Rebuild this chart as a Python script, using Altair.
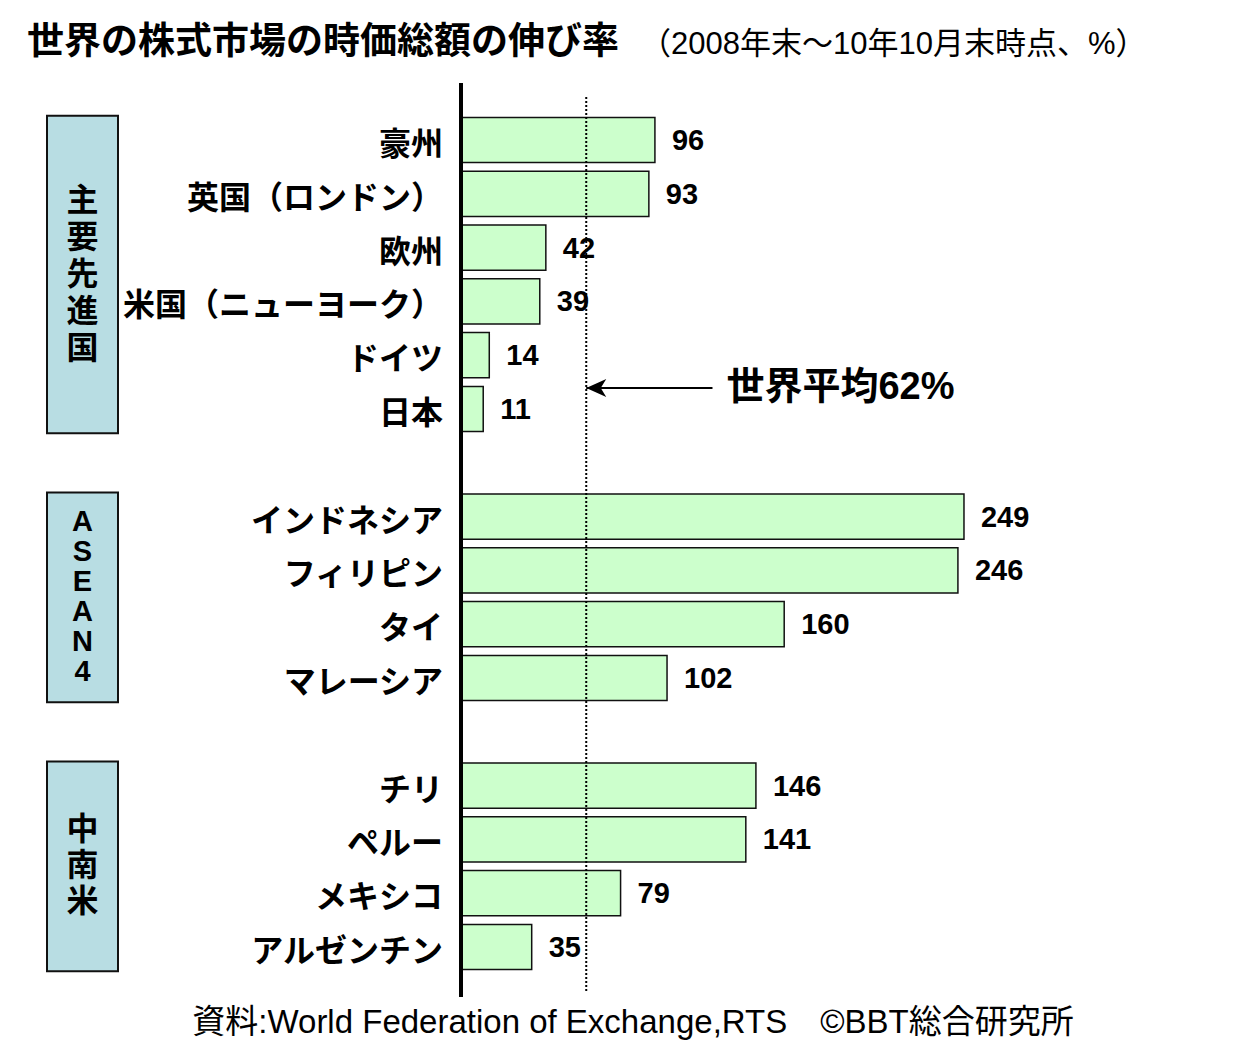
import altair as alt
import pandas as pd

# ---- data ----
labels = ["豪州", "英国（ロンドン）", "欧州", "米国（ニューヨーク）", "ドイツ", "日本",
          "インドネシア", "フィリピン", "タイ", "マレーシア",
          "チリ", "ペルー", "メキシコ", "アルゼンチン"]
values = [96, 93, 42, 39, 14, 11, 249, 246, 160, 102, 146, 141, 79, 35]
group_of = [0, 0, 0, 0, 0, 0, 1, 1, 1, 1, 2, 2, 2, 2]
group_names = ["主要先進国", "ASEAN4", "中南米"]
world_avg = 62

title_text = "世界の株式市場の時価総額の伸び率"
subtitle_text = "（2008年末～10年10月末時点、%）"
footer_text = "資料:World Federation of Exchange,RTS　©BBT総合研究所"
avg_label = "世界平均62%"

# rows with a blank gap between groups
pos = [i + g for i, g in enumerate(group_of)]
df = pd.DataFrame({"label": labels, "value": values, "pos": pos})
df["y0"] = df["pos"] - 0.42
df["y1"] = df["pos"] + 0.42
df["zero"] = 0

PX_PER_ROW = 807 / 15
pitches = [37, 30, 36]
gsizes = [32, 29, 32]

grows, crows = [], []
for g, name in enumerate(group_names):
    ps = [p for p, gg in zip(pos, group_of) if gg == g]
    mid = (min(ps) + max(ps)) / 2
    grows.append({"name": name, "y0": min(ps) - 0.45, "y1": max(ps) + 0.45})
    n = len(name)
    for k, ch in enumerate(name):
        crows.append({"ch": ch, "fs": gsizes[g],
                      "y": mid + (k - (n - 1) / 2) * pitches[g] / PX_PER_ROW})
gdf = pd.DataFrame(grows)
cdf = pd.DataFrame(crows)

JP = "Liberation Sans, Noto Sans CJK JP"

xs = alt.Scale(domain=[0, 100], range=[453, 655], zero=False, nice=False)
ys = alt.Scale(domain=[0, 15], range=[132, 939], zero=False, nice=False)

base = alt.Chart(df)

bars = base.mark_rect(fill="#ccffcc", stroke="#111111", strokeWidth=1.5).encode(
    x=alt.X("zero:Q", scale=xs, axis=None),
    x2="value:Q",
    y=alt.Y("y0:Q", scale=ys, axis=None),
    y2="y1:Q",
)

vals = base.mark_text(align="left", baseline="middle", dx=17, dy=1, font=JP,
                      fontSize=29, fontWeight="bold", color="black").encode(
    x=alt.X("value:Q", scale=xs, axis=None),
    y=alt.Y("pos:Q", scale=ys, axis=None),
    text="value:Q",
)

cats = base.mark_text(align="right", baseline="middle", dy=5, font=JP,
                      fontSize=32, fontWeight="bold", color="black").encode(
    x=alt.value(435),
    y=alt.Y("pos:Q", scale=ys, axis=None),
    text="label:N",
)

gboxes = alt.Chart(gdf).mark_rect(fill="#b8dde3", stroke="#111111", strokeWidth=2).encode(
    x=alt.value(39), x2=alt.value(110),
    y=alt.Y("y0:Q", scale=ys, axis=None), y2="y1:Q",
)
gtext = alt.Chart(cdf).mark_text(align="center", baseline="middle", font=JP,
                                 fontWeight="bold", color="black").encode(
    x=alt.value(74.5),
    y=alt.Y("y:Q", scale=ys, axis=None),
    size=alt.Size("fs:Q", scale=None, legend=None),
    text="ch:N",
)

ann = pd.DataFrame({"x": [world_avg], "y": [4.61], "ylo": [-0.8], "yhi": [15.84],
                    "xtail": [124.5], "axlo": [-1.06], "axhi": [15.93], "z": [0],
                    "t": [avg_label]})
abase = alt.Chart(ann)
avg_rule = abase.mark_rule(strokeDash=[2, 2], strokeWidth=2, color="black").encode(
    x=alt.X("x:Q", scale=xs, axis=None),
    y=alt.Y("ylo:Q", scale=ys, axis=None), y2="yhi:Q",
)
axis_rule = abase.mark_rule(strokeWidth=4, color="black").encode(
    x=alt.X("z:Q", scale=xs, axis=None),
    y=alt.Y("axlo:Q", scale=ys, axis=None), y2="axhi:Q",
)
arrow_line = abase.mark_rule(strokeWidth=2, color="black").encode(
    x=alt.X("x:Q", scale=xs, axis=None), x2="xtail:Q",
    y=alt.Y("y:Q", scale=ys, axis=None),
)
arrow_head = abase.mark_point(shape="M-1,0 L1,-0.9 L0.45,0 L1,0.9 Z", filled=True,
                              size=400, color="black", opacity=1, xOffset=10).encode(
    x=alt.X("x:Q", scale=xs, axis=None),
    y=alt.Y("y:Q", scale=ys, axis=None),
)
avg_text = abase.mark_text(align="left", baseline="middle", dx=14, font=JP, fontSize=38,
                           fontWeight="bold", color="black").encode(
    x=alt.X("xtail:Q", scale=xs, axis=None),
    y=alt.Y("y:Q", scale=ys, axis=None),
    text="t:N",
)

tdf = pd.DataFrame({"t": [title_text], "s": [subtitle_text], "f": [footer_text]})
tbase = alt.Chart(tdf)
title = tbase.mark_text(align="left", baseline="middle", font=JP, fontSize=37,
                        fontWeight="bold", color="black").encode(
    x=alt.value(19), y=alt.value(35), text="t:N")
subtitle = tbase.mark_text(align="left", baseline="middle", font=JP, fontSize=31,
                           color="black").encode(
    x=alt.value(632), y=alt.value(37), text="s:N")
footer = tbase.mark_text(align="center", baseline="middle", font=JP, fontSize=33,
                         color="black").encode(
    x=alt.value(625), y=alt.value(1015), text="f:N")

chart = alt.layer(
    gboxes, gtext, bars, avg_rule, axis_rule, vals, cats,
    arrow_line, arrow_head, avg_text, title, subtitle, footer,
).properties(
    width=1224, height=1035, padding=0,
    autosize=alt.AutoSizeParams(type="none"),
    background="white",
).configure_view(stroke=None)

chart.save("out.html", embed_options={"renderer": "svg", "actions": False})
